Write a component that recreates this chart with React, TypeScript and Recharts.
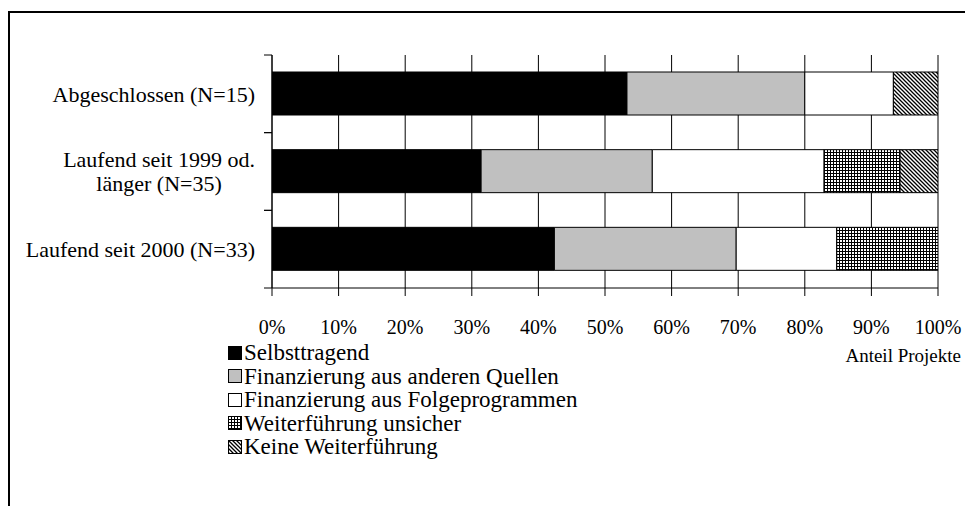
import React from 'react';
import { BarChart, Bar, XAxis, YAxis, CartesianGrid, Legend, Label } from 'recharts';

const categories = ['Abgeschlossen (N=15)', 'Laufend seit 1999 od. länger (N=35)', 'Laufend seit 2000 (N=33)'];
const categoryLines: string[][] = [['Abgeschlossen (N=15)'], ['Laufend seit 1999 od.', 'länger (N=35)'], ['Laufend seit 2000 (N=33)']];
const seriesNames = ['Selbsttragend', 'Finanzierung aus anderen Quellen', 'Finanzierung aus Folgeprogrammen', 'Weiterführung unsicher', 'Keine Weiterführung'];
const selbsttragend = [53.3, 31.4, 42.4];
const andereQuellen = [26.7, 25.7, 27.3];
const folgeprogramme = [13.3, 25.8, 15.1];
const unsicher = [0, 11.4, 15.2];
const keine = [6.7, 5.7, 0];
const xTicks = [0, 10, 20, 30, 40, 50, 60, 70, 80, 90, 100];
const axisTitle = 'Anteil Projekte';

const seriesKeys = ['s0', 's1', 's2', 's3', 's4'];
const seriesFills = ['#000000', '#c0c0c0', '#ffffff', 'url(#crossPat)', 'url(#diagPat)'];
const seriesValues = [selbsttragend, andereQuellen, folgeprogramme, unsicher, keine];

const data = categories.map((c, i) => {
  const row: any = { name: c };
  seriesKeys.forEach((k, j) => { row[k] = seriesValues[j][i]; });
  return row;
});

const FONT = '"Liberation Serif", "Times New Roman", serif';
const W = 965;
const H = 498;
const M = { top: 47, right: 35, bottom: 158, left: 0 };
const X_AXIS_H = 60;
const PLOT_H = H - M.top - M.bottom - X_AXIS_H;
const CAT_FS = 22;

let ctx: CanvasRenderingContext2D | null = null;
function textWidth(t: string, size: number) {
  if (!ctx) ctx = document.createElement('canvas').getContext('2d');
  if (!ctx) return t.length * size * 0.45;
  ctx.font = `${size}px "Liberation Serif"`;
  return ctx.measureText(t).width;
}

const CategoryTick = (props: any) => {
  const { x, y, payload } = props;
  const idx = categories.indexOf(payload.value);
  const half = payload && payload.offset ? payload.offset : PLOT_H / categories.length / 2;
  const lines = categoryLines[idx] || [String(payload.value)];
  const right = x - 17;
  let texts: React.ReactNode;
  if (lines.length === 1) {
    texts = (
      <text x={right} y={y} dy="0.35em" textAnchor="end" fontFamily={FONT} fontSize={CAT_FS} fill="#000">{lines[0]}</text>
    );
  } else {
    const widths = lines.map((l) => textWidth(l, CAT_FS));
    const maxW = Math.max(...widths);
    const cx = right - maxW / 2;
    const lh = 24;
    texts = lines.map((l, i) => (
      <text key={i} x={cx} y={y + (i - (lines.length - 1) / 2) * lh} dy="0.35em" textAnchor="middle" fontFamily={FONT} fontSize={CAT_FS} fill="#000">{l}</text>
    ));
  }
  return (
    <g>
      <line x1={x - 8} x2={x} y1={y - half} y2={y - half} stroke="#000" strokeWidth={1} />
      <line x1={x - 8} x2={x} y1={y + half} y2={y + half} stroke="#000" strokeWidth={1} />
      {texts}
    </g>
  );
};

const LegendContent = () => (
  <div style={{ fontFamily: FONT, fontSize: 23, color: '#000' }}>
    {seriesNames.map((n, i) => (
      <div key={n} style={{ display: 'flex', alignItems: 'center', height: 23.5, lineHeight: '23.5px', whiteSpace: 'nowrap' }}>
        <svg width={14} height={14} style={{ marginRight: 2, flex: 'none' }}>
          <rect x={0.5} y={0.5} width={13} height={13} fill={seriesFills[i]} stroke="#000" strokeWidth={1} />
        </svg>
        <span>{n}</span>
      </div>
    ))}
  </div>
);

const AxisTitle = (props: any) => {
  const vb = props.viewBox || { x: 0, y: 0, width: 0, height: 0 };
  return (
    <text x={vb.x + vb.width + 23} y={vb.y + 74} textAnchor="end" fontFamily={FONT} fontSize={19} fill="#000">{axisTitle}</text>
  );
};

export default function App() {
  return (
    <div style={{ position: 'relative', width: W, height: H }}>
      <div style={{ position: 'absolute', left: 0, top: 3, width: W, height: H - 3, borderTop: '2px solid #000', borderLeft: '2px solid #000', boxSizing: 'border-box', pointerEvents: 'none' }} />
      <BarChart width={W} height={H} data={data} layout="vertical" margin={M} barSize={43}>
        <defs>
          <pattern id="crossPat" width={3} height={3} patternUnits="userSpaceOnUse">
            <rect width={3} height={3} fill="#ffffff" />
            <path d="M0.5 0 V3 M0 0.5 H3" stroke="#000" strokeWidth={1} />
          </pattern>
          <pattern id="diagPat" width={4} height={4} patternUnits="userSpaceOnUse">
            <rect width={4} height={4} fill="#ffffff" />
            <path d="M0 0 L4 4 M-1 3 L1 5 M3 -1 L5 1" stroke="#000" strokeWidth={1.3} />
          </pattern>
        </defs>
        <CartesianGrid horizontal={false} vertical={true} stroke="#000" strokeWidth={1} />
        <XAxis
          type="number"
          domain={[0, 100]}
          ticks={xTicks}
          allowDataOverflow
          tickFormatter={(v: number) => `${v}%`}
          height={X_AXIS_H}
          tickSize={8}
          tickMargin={24}
          axisLine={{ stroke: '#000' }}
          tickLine={{ stroke: '#000' }}
          tick={{ fill: '#000', fontFamily: FONT, fontSize: 20 }}
        >
          <Label content={<AxisTitle />} />
        </XAxis>
        <XAxis xAxisId="top" orientation="top" type="number" domain={[0, 100]} height={0} tick={false} tickLine={false} axisLine={{ stroke: '#000' }} />
        <YAxis
          type="category"
          dataKey="name"
          width={264}
          tickSize={0}
          tickMargin={0}
          tickLine={false}
          axisLine={{ stroke: '#000' }}
          tick={<CategoryTick />}
          interval={0}
        />
        <Legend
          layout="vertical"
          align="center"
          verticalAlign="middle"
          content={<LegendContent />}
          wrapperStyle={{ position: 'absolute', left: 220, top: 333, width: 'auto' }}
        />
        {seriesKeys.map((k, i) => (
          <Bar key={k} dataKey={k} name={seriesNames[i]} stackId="a" fill={seriesFills[i]} stroke="#000" strokeWidth={1} isAnimationActive={false} />
        ))}
      </BarChart>
    </div>
  );
}
